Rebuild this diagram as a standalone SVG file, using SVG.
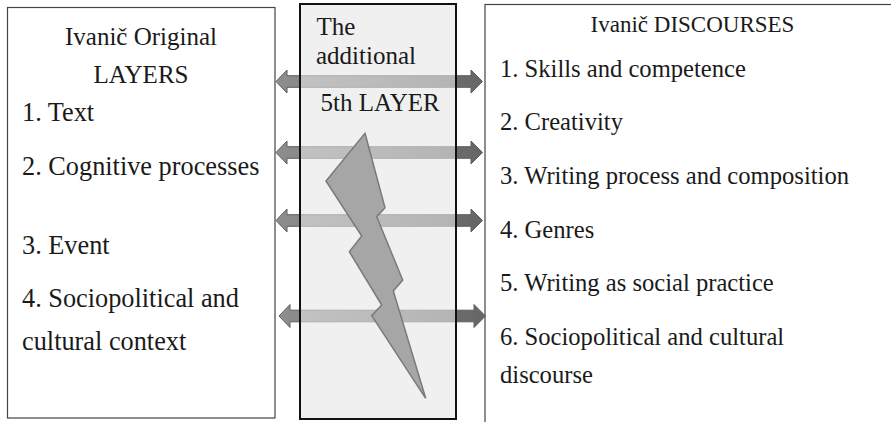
<svg xmlns="http://www.w3.org/2000/svg" width="891" height="422" viewBox="0 0 891 422">
  <style>
    .t { font-size: 25px; fill: #1a1a1a; }
    .lb { font-size: 26.3px; }
    .rb { font-size: 24.6px; }
    .box { fill: #ffffff; stroke: #444444; stroke-width: 1.2; }
    .arrow { fill: url(#arrowGrad); stroke: #5e5e5e; stroke-width: 1; }
  </style>
  <defs>
    <linearGradient id="arrowGrad" x1="0" y1="0" x2="1" y2="0">
      <stop offset="0" stop-color="#8e8e8e"/>
      <stop offset="1" stop-color="#666666"/>
    </linearGradient>
    <path id="dblArrow" d="M0,0 L11,-11.5 L11,-5.8 L195,-5.8 L195,-11.5 L206.5,0 L195,11.5 L195,5.8 L11,5.8 L11,11.5 Z"/>
  </defs>

  <g id="left-box" font-family="Liberation Serif, DejaVu Serif, serif">
    <rect class="box" x="7.5" y="7.5" width="267.5" height="410.5"/>
    <text class="t" x="141" y="45" text-anchor="middle">Ivanič Original</text>
    <text class="t" x="141" y="83" text-anchor="middle">LAYERS</text>
    <text class="t lb" x="22" y="121">1. Text</text>
    <text class="t lb" x="22" y="175">2. Cognitive processes</text>
    <text class="t lb" x="22" y="254">3. Event</text>
    <text class="t lb" x="22" y="307">4. Sociopolitical and</text>
    <text class="t lb" x="22" y="350">cultural context</text>
  </g>

  <g id="right-box" font-family="Liberation Serif, DejaVu Serif, serif">
    <rect class="box" x="485" y="4.5" width="420" height="430"/>
    <text class="t" x="692.5" y="32" text-anchor="middle" style="font-size:23px">Ivanič DISCOURSES</text>
    <text class="t rb" x="500" y="77">1. Skills and competence</text>
    <text class="t rb" x="500" y="130">2. Creativity</text>
    <text class="t rb" x="500" y="184">3. Writing process and composition</text>
    <text class="t rb" x="500" y="238">4. Genres</text>
    <text class="t rb" x="500" y="291">5. Writing as social practice</text>
    <text class="t rb" x="500" y="345">6. Sociopolitical and cultural</text>
    <text class="t rb" x="500" y="383">discourse</text>
  </g>

  <g id="middle-box-fill">
    <rect x="300" y="4" width="156" height="415" fill="#eff0f0"/>
  </g>

  <g id="connectors">
    <use href="#dblArrow" class="arrow" transform="translate(276,81.5)"/>
    <use href="#dblArrow" class="arrow" transform="translate(276,152.5)"/>
    <use href="#dblArrow" class="arrow" transform="translate(276,220.5)"/>
    <use href="#dblArrow" class="arrow" transform="translate(279,316)"/>
  </g>

  <g id="middle-box" font-family="Liberation Serif, DejaVu Serif, serif">
    <rect x="300" y="4" width="156" height="415" fill="#f0f1f1" fill-opacity="0.55"/>
    <rect x="300" y="4" width="156" height="415" fill="none" stroke="#111111" stroke-width="2"/>
    <polygon id="lightning" points="365,133.3 385,207.7 376.7,216.7 402.7,280 393.3,291 425.7,398.3 371.7,315.7 381.7,305 349.3,251.7 361.7,236 326,181" fill="#a6a6a6" stroke="#7a7a7a" stroke-width="1.5"/>
    <text class="t" x="316.5" y="35">The</text>
    <text class="t" x="316" y="64">additional</text>
    <text class="t" x="320.5" y="111">5th LAYER</text>
  </g>
</svg>
